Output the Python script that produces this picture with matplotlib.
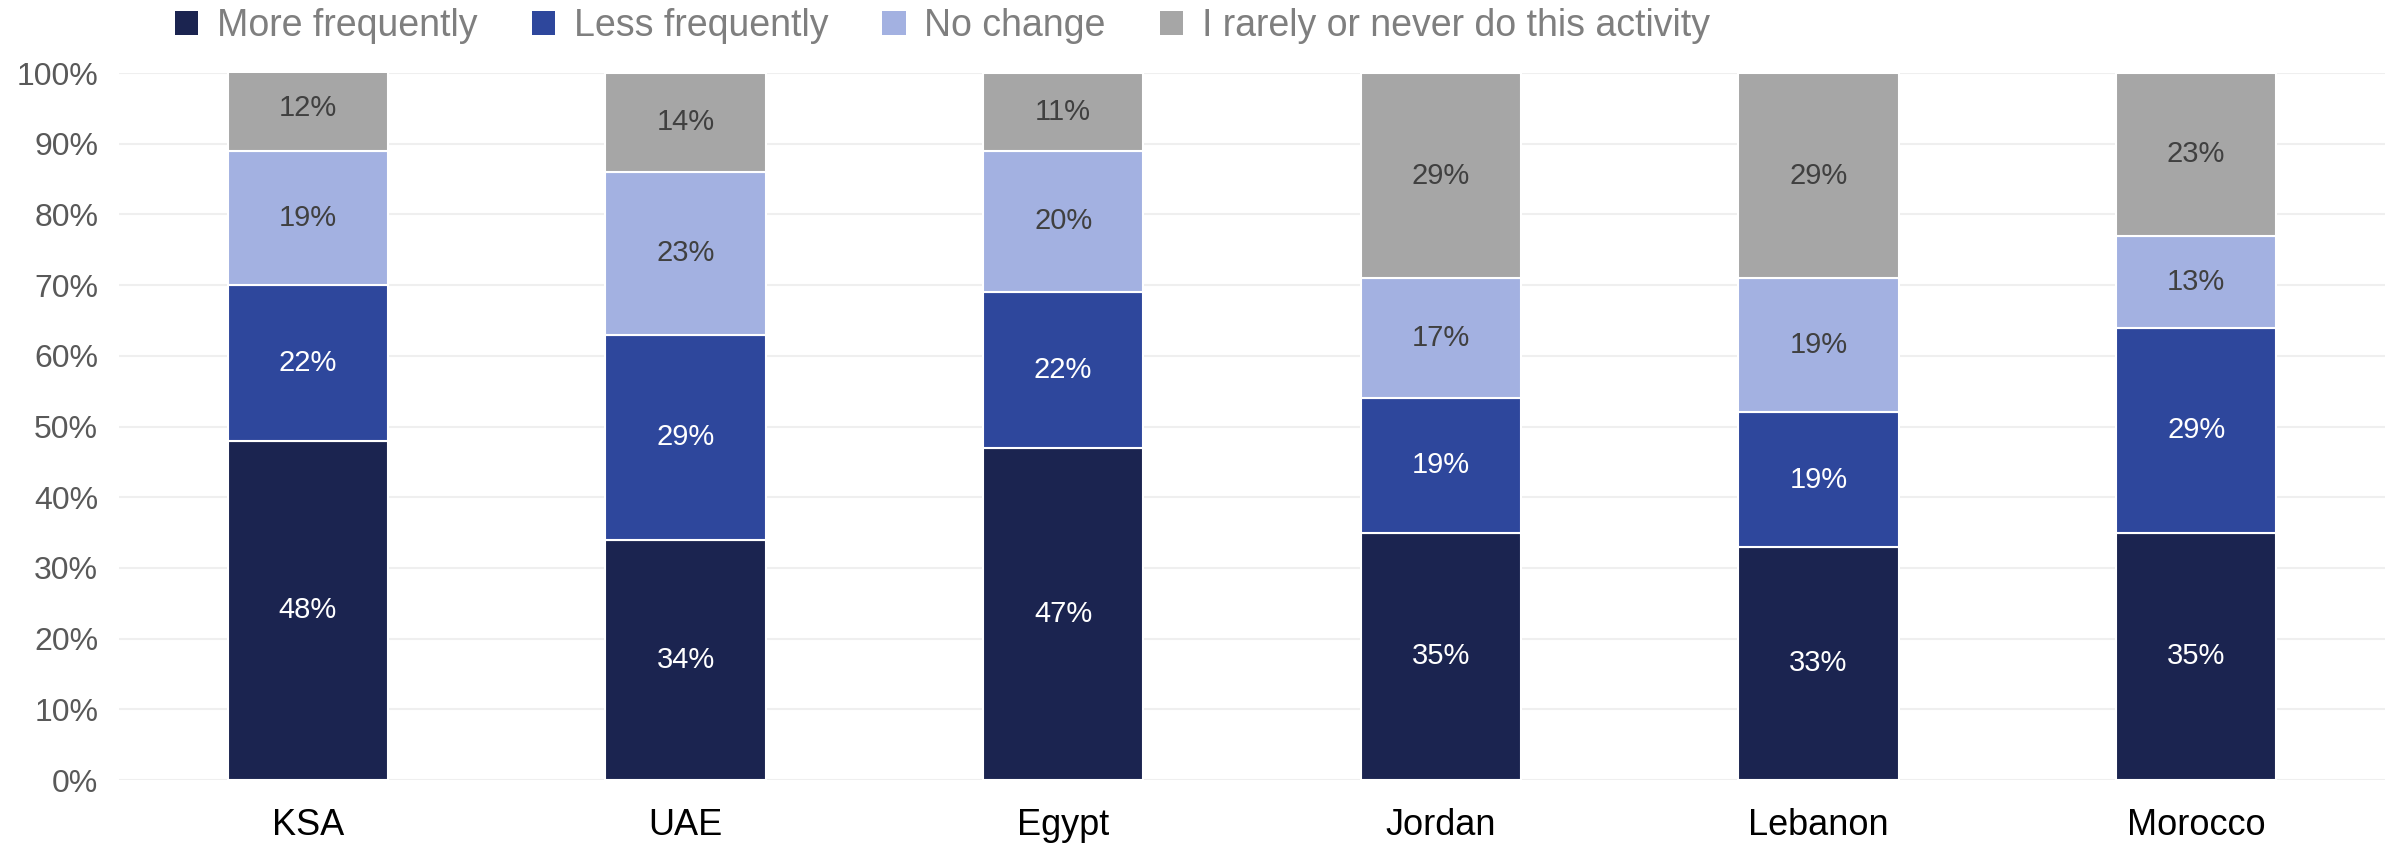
import matplotlib
matplotlib.use("Agg")
import matplotlib.pyplot as plt
from matplotlib.patches import Patch
import numpy as np

plt.rcParams['font.family'] = ['Liberation Sans', 'DejaVu Sans']

countries = ["KSA", "UAE", "Egypt", "Jordan", "Lebanon", "Morocco"]
more_freq = [48, 34, 47, 35, 33, 35]
less_freq = [22, 29, 22, 19, 19, 29]
no_change = [19, 23, 20, 17, 19, 13]
rarely = [12, 14, 11, 29, 29, 23]
series_names = ["More frequently", "Less frequently", "No change",
                "I rarely or never do this activity"]
yticks = [0, 10, 20, 30, 40, 50, 60, 70, 80, 90, 100]

colors = ["#1B2450", "#2E479C", "#A3B1E1", "#A6A6A6"]
label_colors = ["white", "white", "#404040", "#404040"]

fig = plt.figure(figsize=(23.89, 8.46), dpi=100)
ax = fig.add_axes([119 / 2389, 0.078, (2385 - 119) / 2389, 0.8357])

x = np.arange(len(countries))
bottom = np.zeros(len(countries))
series = [more_freq, less_freq, no_change, rarely]
for vals, col, lc in zip(series, colors, label_colors):
    v = np.array(vals, dtype=float)
    ax.bar(x, v, 0.425, bottom=bottom, color=col, edgecolor="white",
           linewidth=1.5, zorder=3)
    for xi, b, vi in zip(x, bottom, v):
        ax.text(xi, b + vi / 2, f"{int(vi)}%", ha="center", va="center",
                fontsize=21, color=lc, zorder=4)
    bottom += v

ax.set_xlim(-0.5, len(countries) - 0.5)
ax.set_ylim(0, 100)
ax.set_yticks(yticks)
ax.set_yticklabels([f"{t}%" for t in yticks])
ax.set_xticks(x)
ax.set_xticklabels(countries)
ax.tick_params(axis="y", length=0, pad=15, labelsize=23, labelcolor="#595959")
ax.tick_params(axis="x", length=0, pad=20, labelsize=26, labelcolor="black")
ax.grid(axis="y", color="#EFEFEF", linewidth=1.5, zorder=0)
ax.set_axisbelow(True)
for s in ax.spines.values():
    s.set_visible(False)

handles = [Patch(facecolor=c, edgecolor="none") for c in colors]
leg = fig.legend(handles, series_names, loc="upper left",
                 bbox_to_anchor=(0.059, 1.03), ncol=4, frameon=False,
                 fontsize=27, handlelength=0.62, handleheight=0.62,
                 handletextpad=0.5, columnspacing=1.45, labelcolor="#7F7F7F")

fig.savefig("out.png", dpi=100)
